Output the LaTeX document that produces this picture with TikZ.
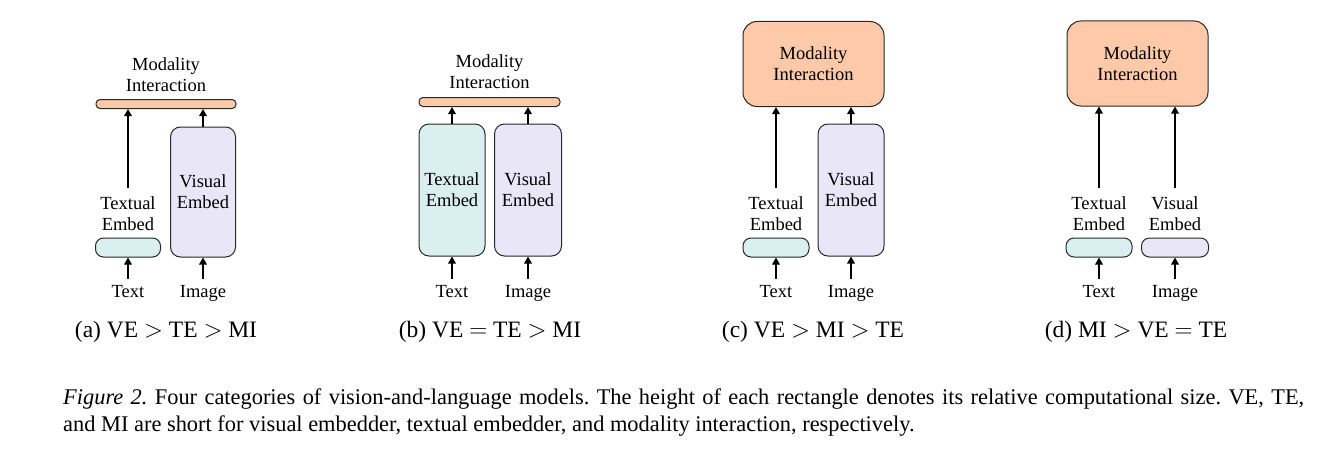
\documentclass[tikz,border=0pt]{standalone}
\usepackage{fontspec}
\setmainfont{Liberation Serif}
\usetikzlibrary{arrows.meta}
\definecolor{mifill}{RGB}{253,201,168}
\definecolor{tefill}{RGB}{218,239,240}
\definecolor{vefill}{RGB}{233,230,248}
\definecolor{edge}{RGB}{40,40,40}
\newcommand{\labfont}{\fontsize{18.5}{21}\selectfont}
\newcommand{\subfont}{\fontsize{23.5}{27}\selectfont}
\newcommand{\capfont}{\fontsize{22.4}{27}\selectfont\frenchspacing}
\begin{document}
\begin{tikzpicture}[x=1pt,y=-1pt,
  bx/.style={draw=edge, line width=1pt, inner sep=0pt, align=center, font=\labfont},
  mibox/.style={bx, fill=mifill},
  tebox/.style={bx, fill=tefill},
  vebox/.style={bx, fill=vefill},
  barbox/.style={rounded corners=4pt, minimum height=9pt},
  smallbox/.style={rounded corners=8pt, minimum height=19pt},
  tallbox/.style={rounded corners=10pt, minimum height=132pt},
  bigbox/.style={rounded corners=14pt, minimum height=85pt, minimum width=141pt},
  lbl/.style={inner sep=0pt, align=center, font=\labfont},
  inp/.style={inner sep=0pt, font=\labfont, text height=12pt, text depth=4pt},
  arr/.style={-{Triangle[length=7pt,width=7.5pt]}, line width=1.6pt},
  sub/.style={inner sep=0pt, font=\subfont}]
\fill[white] (0,0) rectangle (1327,452);
\useasboundingbox (0,0) rectangle (1327,452);

% ---------- (a)
\node[mibox, barbox, minimum width=140pt] (mia) at (166,104) {};
\node[lbl] (mla) at (166,75) {Modality\\Interaction};
\node[tebox, smallbox, minimum width=65pt] (tea) at (128,247.5) {};
\node[vebox, tallbox, minimum width=65pt, minimum height=130pt] (vea) at (203,192) {Visual\\Embed};
\node[lbl] (tla) at (128,214) {Textual\\Embed};
\node[inp] (txa) at (128,293) {Text};
\node[inp] (ima) at (203,293) {Image};
\draw[arr, shorten <=6pt] (txa.north) -- (tea.south);
\draw[arr, shorten <=6pt] (ima.north) -- (vea.south);
\draw[arr, shorten <=9pt] (tla.north) -- (tla.north |- mia.south);
\draw[arr] (vea.north) -- (vea.north |- mia.south);
\node[sub] (sa) at (166,332) {(a) VE $>$ TE $>$ MI};

% ---------- (b)
\node[mibox, barbox, minimum width=141pt] (mib) at (489.5,102) {};
\node[lbl] (mlb) at (489.5,72) {Modality\\Interaction};
\node[tebox, tallbox, minimum width=66pt] (teb) at (452,190) {Textual\\Embed};
\node[vebox, tallbox, minimum width=67pt] (veb) at (528,190) {Visual\\Embed};
\node[inp] (txb) at (452,293) {Text};
\node[inp] (imb) at (528,293) {Image};
\draw[arr, shorten <=6pt] (txb.north) -- (teb.south);
\draw[arr, shorten <=6pt] (imb.north) -- (veb.south);
\draw[arr] (teb.north) -- (teb.north |- mib.south);
\draw[arr] (veb.north) -- (veb.north |- mib.south);
\node[sub] (sb) at (490,332) {(b) VE $=$ TE $>$ MI};

% ---------- (c)
\node[mibox, bigbox] (mic) at (813.5,64) {Modality\\Interaction};
\node[tebox, smallbox, minimum width=66pt] (tec) at (776,247.5) {};
\node[vebox, tallbox, minimum width=66pt] (vec) at (851,190) {Visual\\Embed};
\node[lbl] (tlc) at (776,214) {Textual\\Embed};
\node[inp] (txc) at (776,293) {Text};
\node[inp] (imc) at (851,293) {Image};
\draw[arr, shorten <=6pt] (txc.north) -- (tec.south);
\draw[arr, shorten <=6pt] (imc.north) -- (vec.south);
\draw[arr, shorten <=9pt] (tlc.north) -- (tlc.north |- mic.south);
\draw[arr] (vec.north) -- (vec.north |- mic.south);
\node[sub] (sc) at (813,332) {(c) VE $>$ MI $>$ TE};

% ---------- (d)
\node[mibox, bigbox] (mid) at (1137.5,63.5) {Modality\\Interaction};
\node[tebox, smallbox, minimum width=66pt] (ted) at (1099,247.5) {};
\node[vebox, smallbox, minimum width=67pt] (ved) at (1175,247.5) {};
\node[lbl] (tld) at (1099,214) {Textual\\Embed};
\node[lbl] (vld) at (1175,214) {Visual\\Embed};
\node[inp] (txd) at (1099,293) {Text};
\node[inp] (imd) at (1175,293) {Image};
\draw[arr, shorten <=6pt] (txd.north) -- (ted.south);
\draw[arr, shorten <=6pt] (imd.north) -- (ved.south);
\draw[arr, shorten <=9pt] (tld.north) -- (tld.north |- mid.south);
\draw[arr, shorten <=9pt] (vld.north) -- (vld.north |- mid.south);
\node[sub] (sd) at (1136,332) {(d) MI $>$ VE $=$ TE};

% ---------- caption
\node[anchor=north west, inner sep=0pt, text width=1241pt, align=justify, font=\capfont] (cap) at (63,389)
{\textit{Figure 2.} Four categories of vision-and-language models. The height of each rectangle denotes its relative computational size. VE, TE,\linebreak and MI are short for visual embedder, textual embedder, and modality interaction, respectively.};
\end{tikzpicture}
\end{document}
